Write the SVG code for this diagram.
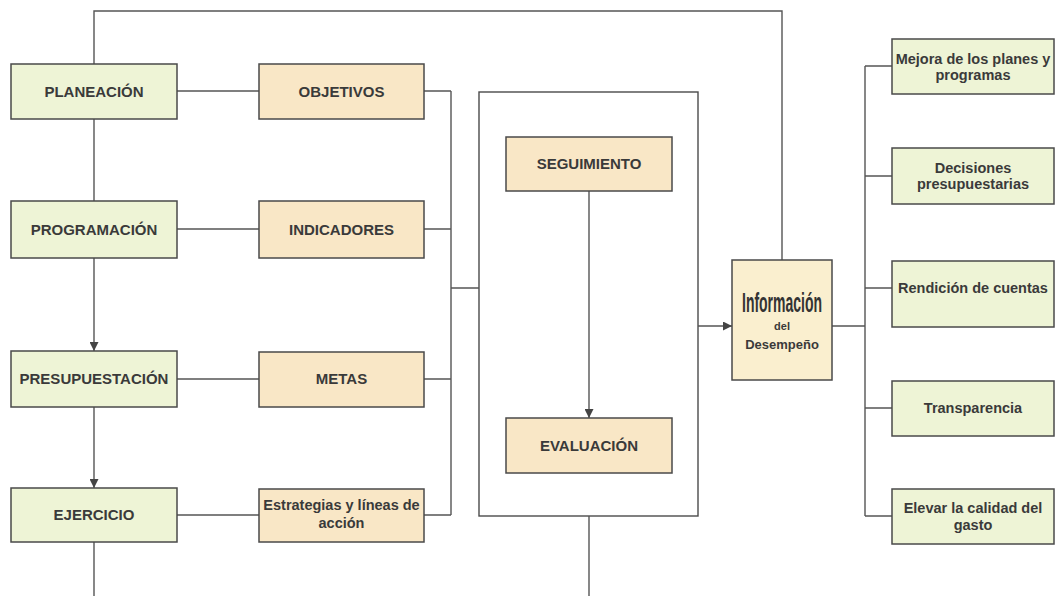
<svg xmlns="http://www.w3.org/2000/svg" width="1055" height="596" viewBox="0 0 1055 596">
<style>
.g{fill:#eef4d6;stroke:#4a4a4a;stroke-width:1.5}
.o{fill:#f9e7c6;stroke:#4a4a4a;stroke-width:1.5}
.i{fill:#faefcf;stroke:#4a4a4a;stroke-width:1.5}
.c{fill:none;stroke:#555;stroke-width:1.4}
.t{font-family:"Liberation Sans",Arial,sans-serif;font-weight:bold;font-size:15px;fill:#3a3a3a;text-anchor:middle}
.s{font-family:"Liberation Sans",Arial,sans-serif;font-weight:bold;font-size:14.5px;fill:#3a3a3a;text-anchor:middle}
</style>
<defs>
<marker id="ah" viewBox="0 0 10 10" refX="10" refY="5" markerWidth="9" markerHeight="9" markerUnits="userSpaceOnUse" orient="auto">
<path d="M0,0 L10,5 L0,10 Z" fill="#444"/>
</marker>
</defs>
<rect width="1055" height="596" fill="#fff"/>
<g id="ciclo"><rect x="479" y="92" width="219" height="424" fill="none" stroke="#4a4a4a" stroke-width="1.4"/></g>
<g id="connectors">
<path class="c" d="M94,64 V11 H782 V260"/>
<path class="c" d="M94,119 V201"/>
<path class="c" d="M94,258 V351" marker-end="url(#ah)"/>
<path class="c" d="M94,407 V488" marker-end="url(#ah)"/>
<path class="c" d="M94,542 V596"/>
<path class="c" d="M177,91 H259 M177,229 H259 M177,379 H259 M177,515 H259"/>
<path class="c" d="M424,91 H451 M424,229 H451 M424,379 H451 M424,515 H451 M451,91 V515 M451,288 H479"/>
<path class="c" d="M589,191 V418" marker-end="url(#ah)"/>
<path class="c" d="M589,516 V596"/>
<path class="c" d="M698,326 H732" marker-end="url(#ah)"/>
<path class="c" d="M832,326 H865 M865,66 V516 M865,66 H892 M865,176 H892 M865,288 H892 M865,408 H892 M865,516 H892"/>
</g>
<g id="planeacion"><rect class="g" x="11" y="64" width="166" height="55"/><text class="t" x="94" y="97">PLANEACIÓN</text></g>
<g id="programacion"><rect class="g" x="11" y="201" width="166" height="57"/><text class="t" x="94" y="235">PROGRAMACIÓN</text></g>
<g id="presupuestacion"><rect class="g" x="11" y="351" width="166" height="56"/><text class="t" x="94" y="384">PRESUPUESTACIÓN</text></g>
<g id="ejercicio"><rect class="g" x="11" y="488" width="166" height="54"/><text class="t" x="94" y="520">EJERCICIO</text></g>
<g id="objetivos"><rect class="o" x="259" y="64" width="165" height="55"/><text class="t" x="341.5" y="97">OBJETIVOS</text></g>
<g id="indicadores"><rect class="o" x="259" y="201" width="165" height="57"/><text class="t" x="341.5" y="235">INDICADORES</text></g>
<g id="metas"><rect class="o" x="259" y="352" width="165" height="55"/><text class="t" x="341.5" y="384">METAS</text></g>
<g id="estrategias"><rect class="o" x="259" y="489" width="165" height="53"/><text class="s" x="341.5" y="510">Estrategias y líneas de</text><text class="s" x="341.5" y="528">acción</text></g>
<g id="seguimiento"><rect class="o" x="506" y="137" width="166" height="54"/><text class="t" x="589" y="169">SEGUIMIENTO</text></g>
<g id="evaluacion"><rect class="o" x="506" y="418" width="166" height="55"/><text class="t" x="589" y="451">EVALUACIÓN</text></g>
<g id="informacion"><rect class="i" x="732" y="260" width="100" height="120"/>
<text x="782" y="312" font-family="'Liberation Sans',Arial,sans-serif" font-size="27" font-weight="bold" fill="#333" text-anchor="middle" textLength="80" lengthAdjust="spacingAndGlyphs">Información</text>
<text x="782" y="330" font-family="'Liberation Sans',Arial,sans-serif" font-size="11" font-weight="bold" fill="#3a3a3a" text-anchor="middle">del</text>
<text x="782" y="349" font-family="'Liberation Sans',Arial,sans-serif" font-size="13" font-weight="bold" fill="#3a3a3a" text-anchor="middle">Desempeño</text></g>
<g id="mejora"><rect class="g" x="892" y="39" width="162" height="55"/><text class="s" x="973" y="64">Mejora de los planes y</text><text class="s" x="973" y="80">programas</text></g>
<g id="decisiones"><rect class="g" x="892" y="148" width="162" height="56"/><text class="s" x="973" y="173">Decisiones</text><text class="s" x="973" y="189">presupuestarias</text></g>
<g id="rendicion"><rect class="g" x="892" y="261" width="162" height="66"/><text class="s" x="973" y="293">Rendición de cuentas</text></g>
<g id="transparencia"><rect class="g" x="892" y="381" width="162" height="55"/><text class="s" x="973" y="413">Transparencia</text></g>
<g id="elevar"><rect class="g" x="892" y="489" width="162" height="55"/><text class="s" x="973" y="513">Elevar la calidad del</text><text class="s" x="973" y="530">gasto</text></g>
</svg>
